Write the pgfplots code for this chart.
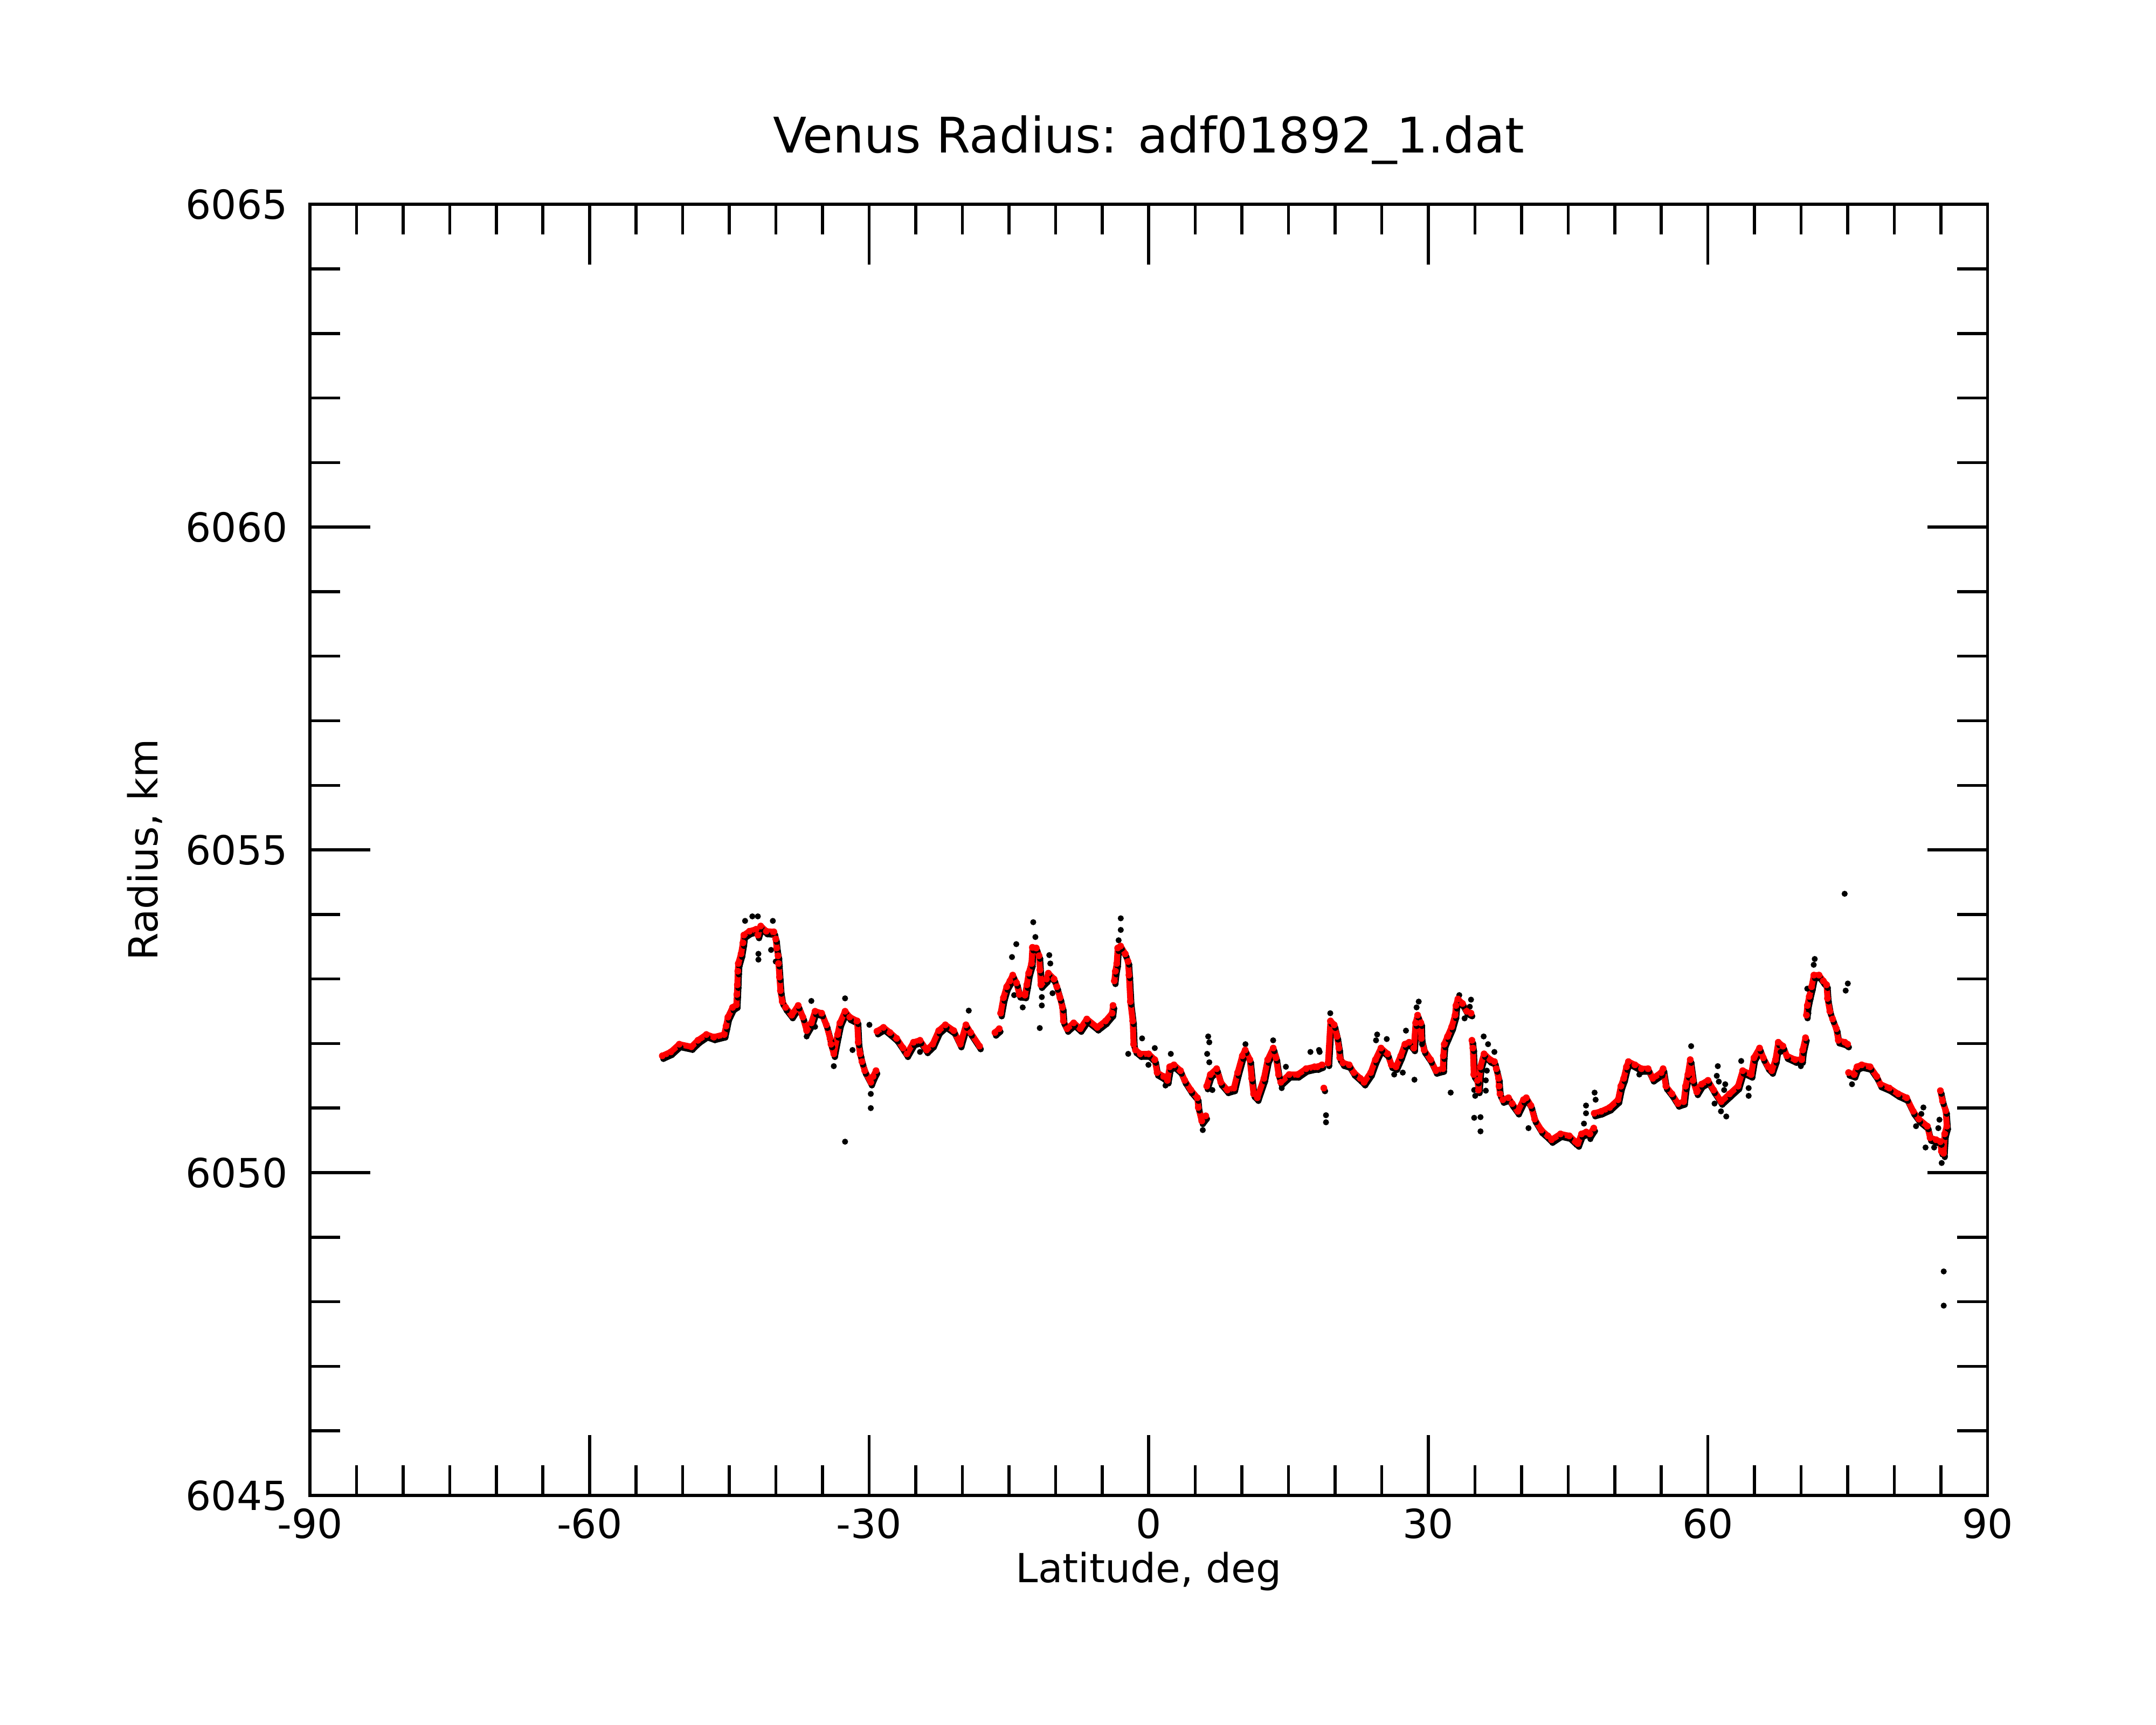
\documentclass[border=0pt]{standalone}
\usepackage{fontspec}
\setmainfont{DejaVu Sans}
\usepackage{pgfplots}
\pgfplotsset{compat=1.18}
\usepackage{pgfplotstable}

\pgfplotstableread{
x y
-52.19 6051.81
-51.28 6051.87
-50.37 6051.99
-49.07 6051.95
-48.37 6052.05
-47.46 6052.14
-46.66 6052.10
-45.55 6052.14
-45.35 6052.27
-45.15 6052.41
-44.65 6052.56
-44.24 6052.60
-44.19 6052.76
-44.14 6052.91
-44.09 6053.12
-44.04 6053.24
-43.74 6053.39
-43.54 6053.56
-43.44 6053.68
-42.84 6053.74
-42.13 6053.77
-41.93 6053.68
-41.63 6053.82
-41.03 6053.74
-40.22 6053.73
-40.02 6053.62
-39.92 6053.48
-39.77 6053.36
-39.72 6053.24
-39.62 6053.03
-39.52 6052.82
-39.32 6052.65
-38.96 6052.56
-38.31 6052.44
-37.61 6052.59
-37.11 6052.41
-36.70 6052.20
-36.20 6052.32
-35.80 6052.50
-35.09 6052.47
-34.59 6052.29
-34.19 6052.08
-34.09 6051.99
-33.79 6051.84
-33.39 6052.14
-33.13 6052.32
-32.58 6052.50
-32.08 6052.41
-31.28 6052.35
-31.17 6052.02
-30.97 6051.84
-30.77 6051.72
-30.47 6051.58
-29.82 6051.40
-29.57 6051.49
-29.26 6051.58
-29.20 nan
-29.16 6052.19
-28.46 6052.25
-27.76 6052.17
-27.05 6052.08
-26.35 6051.93
-25.95 6051.84
-25.24 6052.02
-24.54 6052.05
-23.83 6051.90
-23.18 6051.99
-22.53 6052.20
-21.82 6052.29
-20.92 6052.20
-20.22 6051.99
-19.61 6052.29
-19.11 6052.17
-18.15 6051.96
-17.00 nan
-16.50 6052.17
-16.04 6052.23
-15.95 nan
-15.89 6052.47
-15.59 6052.71
-15.24 6052.88
-14.89 6052.97
-14.59 6053.06
-14.18 6052.94
-13.88 6052.76
-13.28 6052.75
-13.08 6052.91
-12.88 6053.09
-12.58 6053.24
-12.48 6053.49
-12.07 6053.48
-11.77 6053.36
-11.67 6053.14
-11.57 6052.91
-10.97 6053.00
-10.77 6053.09
-10.16 6053.00
-9.86 6052.88
-9.52 6052.71
-9.26 6052.56
-9.16 6052.35
-8.76 6052.23
-8.05 6052.32
-7.35 6052.23
-6.64 6052.38
-5.52 6052.25
-4.63 6052.35
-3.93 6052.47
-3.83 6052.59
-3.75 nan
-3.69 6052.97
-3.58 6053.12
-3.43 6053.24
-3.33 6053.48
-3.02 6053.51
-2.52 6053.39
-2.22 6053.27
-2.12 6053.06
-1.97 6052.65
-1.72 6052.35
-1.62 6051.99
-1.42 6051.90
-0.91 6051.84
-0.01 6051.84
0.65 6051.75
0.90 6051.55
1.60 6051.49
2.00 6051.43
2.25 6051.64
2.71 6051.67
3.41 6051.58
3.86 6051.43
4.52 6051.28
5.22 6051.16
5.32 6051.01
5.69 6050.80
6.12 6050.88
6.15 nan
6.22 6051.34
6.61 6051.52
7.29 6051.61
7.73 6051.40
8.44 6051.28
9.14 6051.31
9.54 6051.55
10.04 6051.81
10.35 6051.90
10.85 6051.75
11.05 6051.46
11.25 6051.22
11.65 6051.16
12.36 6051.46
12.76 6051.75
13.36 6051.93
13.66 6051.78
13.93 6051.52
14.17 6051.40
15.07 6051.52
15.98 6051.52
16.88 6051.61
17.79 6051.64
18.09 6051.64
18.59 6051.67
18.65 nan
18.79 6051.31
18.90 nan
19.24 6051.70
19.50 6052.35
19.90 6052.29
20.20 6052.11
20.40 6051.93
20.50 6051.78
20.85 6051.70
21.51 6051.67
22.01 6051.55
22.71 6051.46
23.11 6051.40
23.82 6051.55
24.32 6051.75
24.92 6051.93
25.63 6051.84
26.03 6051.67
26.53 6051.64
27.04 6051.81
27.49 6051.99
27.94 6052.02
28.44 6051.93
28.64 6052.32
28.85 6052.44
29.20 6052.32
29.25 6052.08
29.55 6051.90
30.25 6051.75
30.81 6051.58
31.56 6051.61
31.61 6051.81
31.71 6051.99
32.06 6052.11
32.51 6052.26
32.87 6052.44
32.97 6052.59
33.17 6052.69
33.67 6052.62
34.12 6052.50
34.58 6052.47
34.63 nan
34.68 6052.05
34.78 6051.93
34.88 6051.52
35.28 6051.43
35.38 6051.28
35.58 6051.64
35.98 6051.84
36.64 6051.75
37.09 6051.72
37.29 6051.61
37.54 6051.46
37.59 6051.34
37.69 6051.22
37.99 6051.13
38.60 6051.16
39.00 6051.07
39.60 6050.95
40.21 6051.13
40.51 6051.16
41.01 6051.04
41.41 6050.83
42.12 6050.66
42.82 6050.57
43.22 6050.51
44.18 6050.60
45.13 6050.57
45.79 6050.48
46.04 6050.45
46.44 6050.60
46.94 6050.63
47.34 6050.60
47.75 6050.69
47.77 nan
47.80 6050.92
48.55 6050.95
49.46 6051.01
50.36 6051.13
50.66 6051.34
50.96 6051.46
51.26 6051.64
51.47 6051.72
52.17 6051.67
52.87 6051.61
53.58 6051.61
54.08 6051.46
54.98 6051.55
55.19 6051.61
55.49 6051.34
56.14 6051.22
56.79 6051.07
57.40 6051.10
57.60 6051.34
57.85 6051.52
58.10 6051.75
58.40 6051.43
58.80 6051.25
59.31 6051.37
60.01 6051.43
60.61 6051.28
61.42 6051.10
62.32 6051.22
63.23 6051.34
63.73 6051.58
64.64 6051.52
64.94 6051.78
65.54 6051.93
65.94 6051.78
66.45 6051.64
66.85 6051.58
67.25 6051.75
67.55 6052.02
68.05 6051.96
68.46 6051.81
69.36 6051.75
70.06 6051.75
70.17 6051.90
70.47 6052.09
70.52 nan
70.57 6052.44
70.67 6052.59
70.87 6052.73
71.12 6052.88
71.37 6053.06
71.92 6053.06
72.38 6052.97
72.73 6052.91
72.83 6052.70
73.08 6052.50
73.38 6052.38
73.78 6052.23
73.99 6052.05
74.69 6052.02
74.99 6051.99
75.04 nan
75.09 6051.55
75.69 6051.52
76.00 6051.64
76.50 6051.67
77.40 6051.64
78.11 6051.49
78.51 6051.37
79.47 6051.31
80.42 6051.22
81.32 6051.16
82.03 6050.95
82.63 6050.83
83.54 6050.72
83.84 6050.54
84.48 6050.51
84.94 6050.48
85.05 6050.33
85.06 nan
84.94 6051.27
85.17 6051.11
85.51 6050.96
85.63 6050.72
85.40 6050.60
85.28 6050.30
}\redtab

\pgfplotstableread{
x y
-42.53 6053.97
-41.94 6053.97
-43.31 6053.90
-40.33 6053.90
-41.88 6053.39
-41.88 6053.30
-40.52 6053.45
-40.02 6053.27
-36.20 6052.66
-36.70 6052.11
-35.80 6052.26
-32.58 6052.70
-33.79 6051.65
-29.97 6052.29
-29.82 6051.22
-29.82 6051.00
-32.58 6050.48
-31.78 6051.90
-19.31 6052.51
-24.54 6051.87
-12.39 6053.88
-12.16 6053.65
-14.21 6053.54
-14.67 6053.34
-10.67 6053.37
-10.56 6053.24
-11.47 6052.72
-11.47 6052.59
-11.69 6052.24
-13.52 6052.56
-14.44 6052.75
-10.32 6052.78
-3.00 6053.94
-3.00 6053.76
-3.23 6053.60
-0.71 6052.08
-2.20 6051.84
0.65 6051.93
-0.03 6051.67
1.80 6051.35
2.37 6051.84
6.38 6052.11
6.50 6052.02
6.27 6051.84
6.50 6051.71
6.83 6051.28
5.80 6050.66
10.38 6051.99
13.35 6052.05
14.27 6051.31
17.35 6051.87
18.27 6051.90
14.72 6051.64
18.34 6051.87
19.02 6050.89
19.02 6050.78
19.48 6052.47
24.51 6052.14
24.39 6052.05
25.54 6052.07
27.60 6052.20
28.97 6052.65
28.74 6052.56
28.51 6051.44
29.32 6051.99
27.26 6051.55
26.34 6051.52
32.40 6051.24
33.32 6052.75
34.58 6052.68
34.45 6052.57
33.89 6052.39
35.94 6052.11
36.41 6051.99
37.09 6051.87
34.92 6051.28
35.03 6051.19
34.92 6050.85
35.60 6050.86
35.60 6050.64
36.17 6051.43
36.17 6051.27
36.28 6051.58
40.75 6050.69
47.84 6051.24
47.95 6051.13
46.92 6051.04
46.92 6050.92
46.70 6050.76
47.39 6050.52
52.64 6051.52
74.67 6054.32
75.01 6052.93
74.78 6052.82
71.46 6053.31
71.35 6053.22
70.78 6052.47
70.66 6052.85
58.20 6051.96
61.06 6051.65
60.95 6051.50
61.17 6051.41
61.86 6051.37
61.74 6051.28
61.40 6050.95
61.97 6050.87
60.71 6051.07
64.37 6051.19
64.37 6051.31
63.57 6051.73
67.80 6051.87
69.97 6051.65
75.46 6051.37
83.12 6051.01
82.90 6050.91
82.33 6050.72
83.35 6050.39
84.27 6050.39
84.72 6050.69
84.84 6050.82
85.42 6050.24
85.08 6050.15
85.30 6048.47
85.30 6047.94
}\blacktab

\begin{document}
\begin{tikzpicture}
\path[use as bounding box] (-82.8pt,-61.2pt) rectangle (493.2pt,399.6pt);
\begin{axis}[
  at={(0,0)}, anchor=south west,
  scale only axis, width=448.2pt, height=345pt,
  xmin=-90, xmax=90, ymin=6045, ymax=6065,
  xtick={-90,-60,...,90}, ytick={6045,6050,...,6065},
  minor x tick num=5, minor y tick num=4,
  tick align=inside,
  major tick length=16.1pt, minor tick length=8.1pt,
  every tick/.style={black, line width=0.8pt},
  axis line style={line width=0.8pt},
  /pgf/number format/assume math mode=true,
  /pgf/number format/1000 sep={},
  tick label style={font=\fontsize{10.7}{12.8}\selectfont},
  yticklabel style={xshift=-2.4pt},
  title={Venus Radius: adf01892\_1.dat},
  every axis title/.style={at={(axis description cs:0.5,1.04)}, anchor=base, font=\fontsize{13.1}{15.7}\selectfont},
  xlabel={Latitude, deg},
  xlabel style={at={(axis description cs:0.5,-0.0672)}, anchor=base, font=\fontsize{10.7}{12.8}\selectfont},
  ylabel={Radius, km},
  ylabel style={at={(axis description cs:-0.0906,0.5)}, anchor=base, font=\fontsize{10.7}{12.8}\selectfont},
  unbounded coords=jump,
]
\addplot[black, line width=1.6pt, line join=round, line cap=round, mark=*, mark size=0.8pt, mark options={line width=0.1pt}, xshift=0.3pt, yshift=-0.8pt] table[x=x,y=y] {\redtab};
\addplot[only marks, black, mark=*, mark size=0.75pt, mark options={line width=0.1pt}] table[x=x,y=y] {\blacktab};
\addplot[red, line width=1.6pt, line join=round, line cap=round, mark=*, mark size=0.85pt, mark options={line width=0.1pt}] table[x=x,y=y] {\redtab};
\end{axis}
\end{tikzpicture}
\end{document}
